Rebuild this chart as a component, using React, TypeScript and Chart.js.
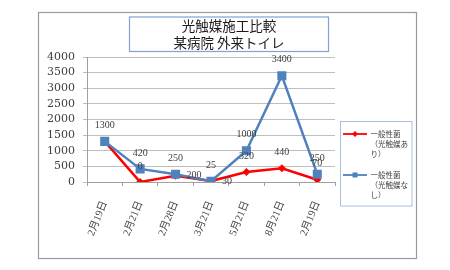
import React, { useEffect, useRef } from 'react';
import { Chart, registerables } from 'chart.js';

Chart.register(...registerables);

const categories = ['2月19日', '2月21日', '2月28日', '3月21日', '5月21日', '8月21日', '2月19日'];
const withCatalyst = [1300, 0, 200, 30, 320, 440, 70];
const withoutCatalyst = [1300, 420, 250, 25, 1000, 3400, 250];
const seriesNames = ['一般性菌（光触媒あり）', '一般性菌（光触媒なし）'];
const titleLines = ['光触媒施工比較', '某病院 外来トイレ'];
const yTickValues = [0, 500, 1000, 1500, 2000, 2500, 3000, 3500, 4000];
const withCatalystLabelPos = ['none', 'top', 'right', 'right', 'top', 'top', 'top'];
const withoutCatalystLabelPos = ['top', 'top', 'top', 'top', 'top', 'top', 'top'];

const RED = '#FF0000';
const BLUE = '#4F81BD';

const dataLabelPlugin = {
  id: 'dataLabels',
  afterDatasetsDraw(chart: any) {
    const ctx = chart.ctx;
    ctx.save();
    ctx.font = '10px "Liberation Serif"';
    ctx.fillStyle = '#404040';
    ctx.textBaseline = 'middle';
    chart.data.datasets.forEach((ds: any, i: number) => {
      const meta = chart.getDatasetMeta(i);
      meta.data.forEach((pt: any, j: number) => {
        const p = (ds.labelPos && ds.labelPos[j]) || 'top';
        if (p === 'none') return;
        let x = pt.x;
        let y = pt.y;
        if (p === 'top') {
          ctx.textAlign = 'center';
          y -= 16;
        } else {
          ctx.textAlign = 'left';
          x += 11;
        }
        ctx.fillText(String(ds.data[j]), x, y);
      });
    });
    ctx.restore();
  },
};

function wrapText(ctx: CanvasRenderingContext2D, text: string, maxW: number): string[] {
  const lines: string[] = [];
  let cur = '';
  for (const ch of Array.from(text)) {
    if (cur && ctx.measureText(cur + ch).width > maxW) {
      lines.push(cur);
      cur = ch;
    } else {
      cur += ch;
    }
  }
  if (cur) lines.push(cur);
  for (let i = 0; i < lines.length - 1; i++) {
    const l = lines[i];
    if (l.endsWith('（')) {
      lines[i] = l.slice(0, -1);
      lines[i + 1] = '（' + lines[i + 1];
    }
  }
  const out: string[] = [];
  let carry = '';
  lines.forEach((l) => {
    let s = carry + l;
    carry = '';
    while (ctx.measureText(s).width > maxW && s.length > 1) {
      carry = s.slice(-1) + carry;
      s = s.slice(0, -1);
    }
    out.push(s);
  });
  if (carry) out.push(carry);
  return out;
}

const decorPlugin = {
  id: 'decor',
  beforeDraw(chart: any) {
    const ctx = chart.ctx;
    ctx.save();
    ctx.fillStyle = '#FFFFFF';
    ctx.fillRect(0, 0, chart.width, chart.height);
    ctx.restore();
  },
  afterDraw(chart: any) {
    const ctx = chart.ctx;
    ctx.save();
    ctx.strokeStyle = '#9A9A9A';
    ctx.lineWidth = 1.2;
    ctx.strokeRect(38.5, 12.5, 378, 246);

    ctx.fillStyle = '#FFFFFF';
    ctx.fillRect(129.5, 17, 199, 34.5);
    ctx.strokeStyle = '#7FA3D3';
    ctx.lineWidth = 1.2;
    ctx.strokeRect(129.5, 17, 199, 34.5);
    ctx.fillStyle = '#1A1A1A';
    ctx.font = '13.5px "Noto Sans CJK JP"';
    ctx.textAlign = 'center';
    ctx.textBaseline = 'middle';
    titleLines.forEach((t, i) => ctx.fillText(t, 229, 26 + i * 16.5));

    ctx.fillStyle = '#FFFFFF';
    ctx.fillRect(340, 121.5, 72, 84.5);
    ctx.strokeStyle = '#A6C0E2';
    ctx.lineWidth = 1;
    ctx.strokeRect(340.5, 121.5, 71.5, 84.5);
    ctx.font = '7.5px "Noto Sans CJK JP"';
    ctx.textAlign = 'left';
    ctx.textBaseline = 'middle';
    const entryY = [134, 175];
    chart.data.datasets.forEach((ds: any, i: number) => {
      const y = entryY[i];
      ctx.strokeStyle = ds.borderColor;
      ctx.lineWidth = 1.8;
      ctx.beginPath();
      ctx.moveTo(343, y);
      ctx.lineTo(367, y);
      ctx.stroke();
      ctx.fillStyle = ds.borderColor;
      ctx.beginPath();
      if (ds.pointStyle === 'rect') {
        ctx.rect(352.5, y - 2.5, 5, 5);
      } else {
        ctx.moveTo(355, y - 3);
        ctx.lineTo(358, y);
        ctx.lineTo(355, y + 3);
        ctx.lineTo(352, y);
        ctx.closePath();
      }
      ctx.fill();
      ctx.fillStyle = '#404040';
      const lines = wrapText(ctx, ds.label, 39);
      lines.forEach((l, k) => ctx.fillText(l, 370.5, y + k * 10.3));
    });
    ctx.restore();
  },
};

export default function App() {
  const ref = useRef<HTMLCanvasElement | null>(null);
  useEffect(() => {
    if (!ref.current) return;
    const chart = new Chart(ref.current, {
      type: 'line',
      data: {
        labels: categories,
        datasets: [
          {
            label: seriesNames[0],
            data: withCatalyst,
            borderColor: RED,
            backgroundColor: RED,
            borderWidth: 2.5,
            pointStyle: 'rectRot',
            pointRadius: 4,
            pointBorderWidth: 0,
            tension: 0,
            order: 1,
            labelPos: withCatalystLabelPos,
          } as any,
          {
            label: seriesNames[1],
            data: withoutCatalyst,
            borderColor: BLUE,
            backgroundColor: BLUE,
            borderWidth: 2.5,
            pointStyle: 'rect',
            pointRadius: 6.4,
            pointBorderWidth: 0,
            tension: 0,
            order: 0,
            labelPos: withoutCatalystLabelPos,
          } as any,
        ],
      },
      options: {
        animation: false,
        responsive: false,
        devicePixelRatio: 1,
        layout: { padding: { left: 39, right: 115, top: 57, bottom: 0 } },
        plugins: {
          legend: { display: false },
          title: { display: false },
          tooltip: { enabled: false },
        },
        scales: {
          x: {
            offset: true,
            grid: {
              offset: true,
              drawOnChartArea: false,
              drawTicks: true,
              tickLength: 4,
              color: '#A0A0A0',
            },
            border: { color: '#A0A0A0' },
            ticks: {
              autoSkip: false,
              minRotation: 68,
              maxRotation: 68,
              padding: 13,
              color: '#404040',
              font: { family: '"Liberation Serif", "Noto Sans CJK JP"', size: 10.5 },
            },
            afterFit: (s: any) => {
              s.height = 88;
            },
          },
          y: {
            min: 0,
            max: 4000,
            afterBuildTicks: (s: any) => {
              s.ticks = yTickValues.map((v) => ({ value: v }));
            },
            ticks: {
              autoSkip: false,
              padding: 8,
              color: '#404040',
              font: { family: '"DejaVu Serif"', size: 11 },
              callback: (v: any) => String(v),
            },
            grid: { color: '#BEBEBE', tickLength: 4 },
            border: { color: '#A0A0A0' },
            afterFit: (s: any) => {
              s.width = 48;
            },
          },
        },
      },
      plugins: [decorPlugin, dataLabelPlugin],
    });
    return () => chart.destroy();
  }, []);
  return (
    <div style={{ position: 'absolute', left: 0, top: 0, width: 450, height: 270 }}>
      <canvas ref={ref} width={450} height={270} />
    </div>
  );
}
